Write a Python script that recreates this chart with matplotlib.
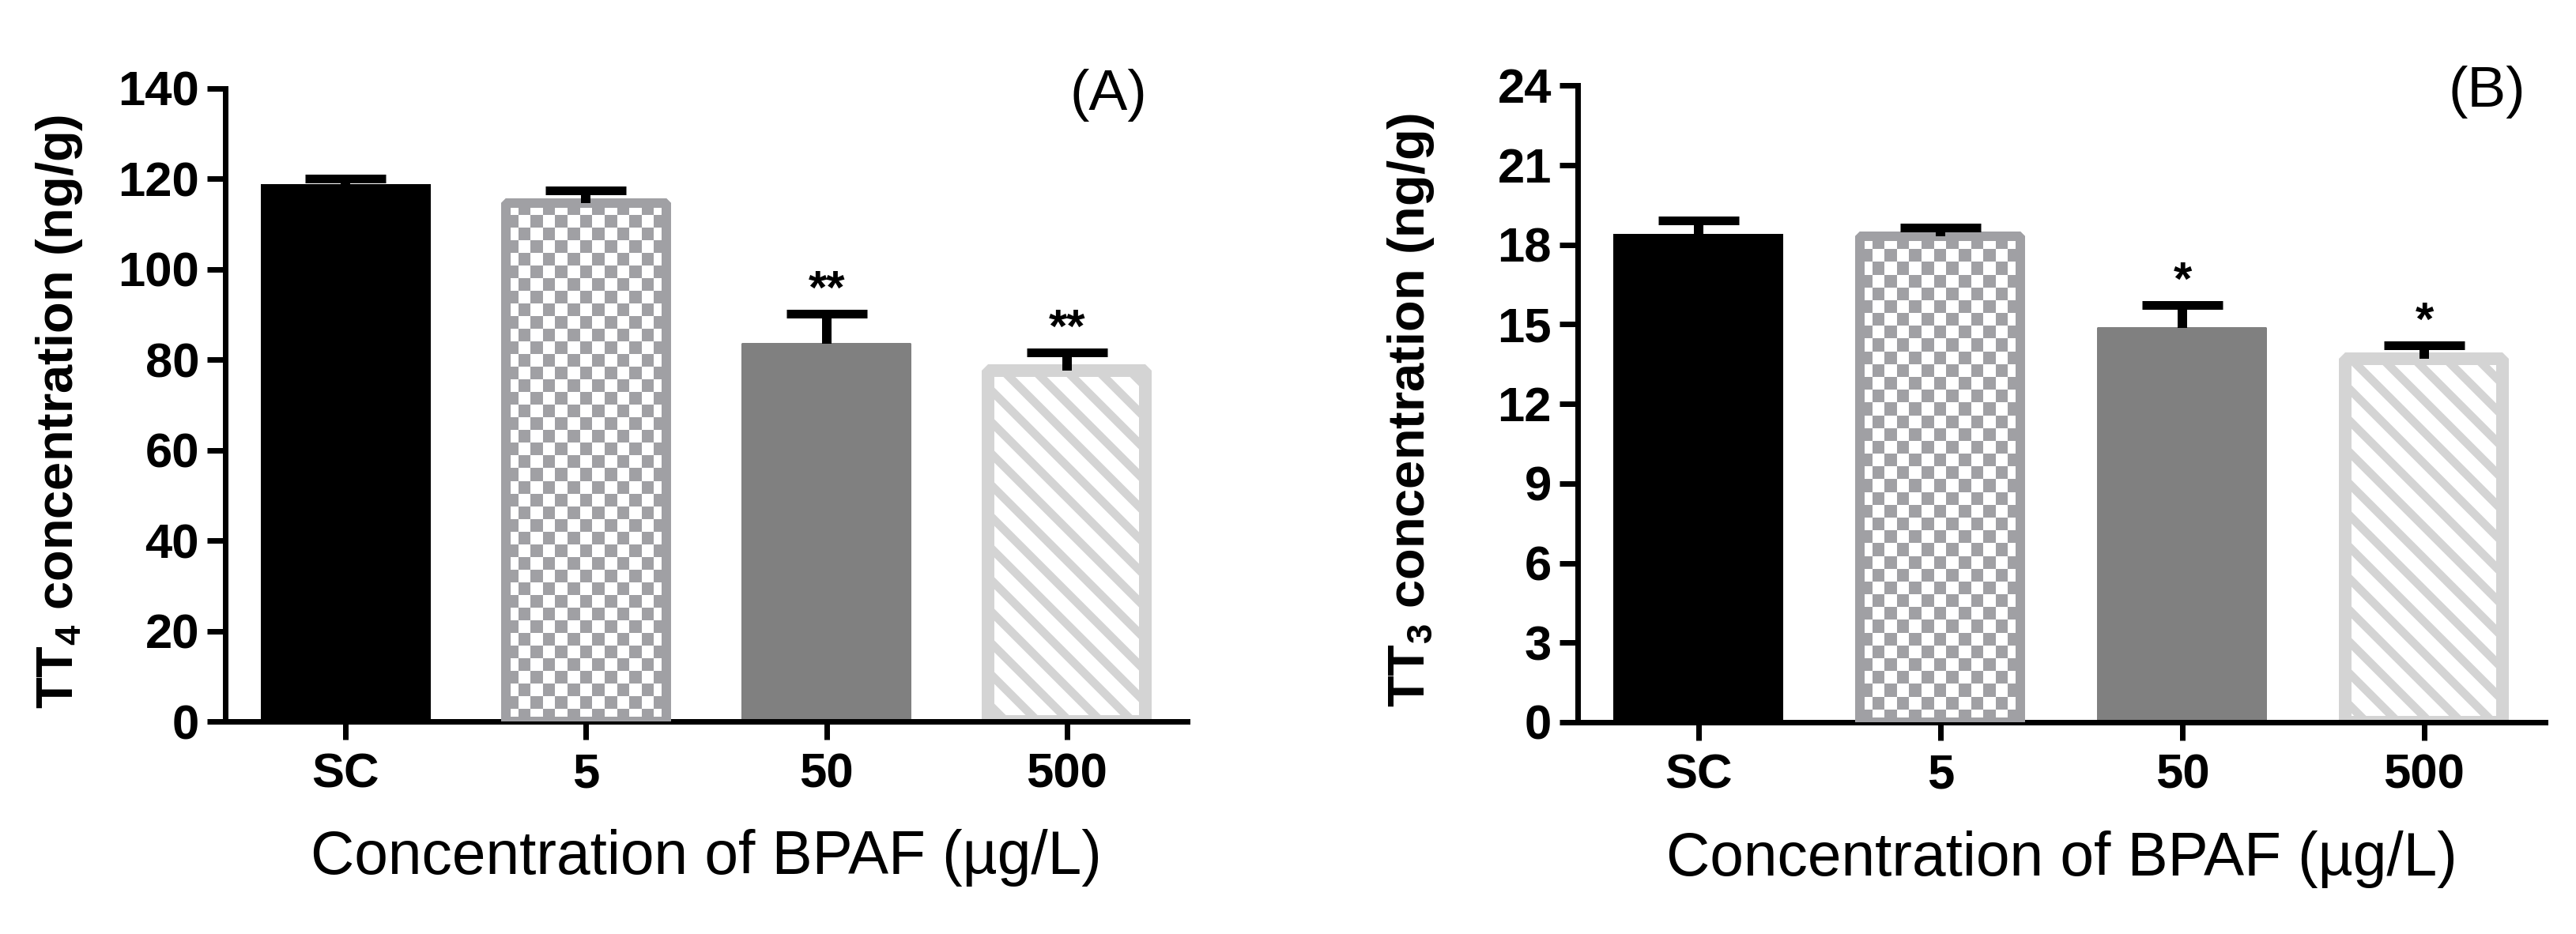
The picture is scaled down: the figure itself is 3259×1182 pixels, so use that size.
import numpy as np
import matplotlib
matplotlib.use("Agg")
import matplotlib.pyplot as plt
from matplotlib.colors import ListedColormap

plt.rcParams['font.family'] = ['Liberation Sans', 'DejaVu Sans']
plt.rcParams['mathtext.fontset'] = 'custom'
plt.rcParams['mathtext.rm'] = 'Liberation Sans'
plt.rcParams['mathtext.bf'] = 'Liberation Sans:bold'
plt.rcParams['hatch.linewidth'] = 3.2

# data
groups = ['SC', '5', '50', '500']
tt4_mean = [118.8, 114.7, 83.5, 77.6]
tt4_err = [1.3, 2.8, 6.6, 4.0]
tt4_sig = ['', '', '**', '**']
tt3_mean = [18.4, 18.3, 14.85, 13.7]
tt3_err = [0.5, 0.33, 0.87, 0.5]
tt3_sig = ['', '', '*', '*']

# bar styles: face, edge, edge width (px), hatch
faces = ['black', 'white', '#808080', 'white']
edges = ['black', '#a0a0a4', '#808080', '#d4d4d4']
edge_px = [0, 12, 2, 16]
hatches = [None, None, None, '\\\\']
checker = [False, True, False, False]

DPI = 240
W, H = 3259, 1182
px = 72 / DPI  # points per pixel

fig = plt.figure(figsize=(W / DPI, H / DPI), dpi=DPI)
axA = fig.add_axes([285 / W, (H - 913) / H, 1217 / W, 801 / H])
axB = fig.add_axes([1996 / W, (H - 914) / H, 1224 / W, 806 / H])


def draw_panel(ax, means, errs, sig, ymax, ystep, ylabel, tag, tag_x):
    x = np.arange(len(groups))
    ax.set_xlim(-0.5, 3.5)
    ax.set_ylim(0, ymax)
    xscale = ax.bbox.width / 4.0
    widths = [(215 - e) / xscale for e in edge_px]

    bars = []
    for i in range(len(groups)):
        b = ax.bar(x[i], means[i], width=widths[i], color=faces[i],
                   edgecolor=edges[i], linewidth=edge_px[i] * px,
                   hatch=hatches[i], zorder=2)[0]
        b.set_joinstyle('bevel')
        bars.append(b)

    # checkerboard fill (no such hatch in matplotlib)
    for i, b in enumerate(bars):
        if not checker[i]:
            continue
        x0, y0 = b.get_x(), b.get_y()
        w, h = b.get_width(), b.get_height()
        p0 = ax.transData.transform((x0, y0))
        p1 = ax.transData.transform((x0 + w, y0 + h))
        nx = max(1, int(round((p1[0] - p0[0]) / 16)))
        ny = max(1, int(round((p1[1] - p0[1]) / 16)))
        grid = np.add.outer(np.arange(ny), np.arange(nx)) % 2
        im = ax.imshow(grid, extent=(x0, x0 + w, y0, y0 + h), origin='upper',
                       cmap=ListedColormap(['white', edges[i]]),
                       interpolation='nearest', aspect='auto', zorder=2.5)
        im.set_clip_path(b)
        ax.bar(x[i], means[i], width=widths[i], fill=False, edgecolor=edges[i],
               linewidth=edge_px[i] * px, zorder=3)[0].set_joinstyle('bevel')
    ax.set_xlim(-0.5, 3.5)
    ax.set_ylim(0, ymax)

    eb = ax.errorbar(x, means, yerr=[np.zeros(len(errs)), errs], fmt='none',
                     ecolor='black', elinewidth=12 * px, capsize=51 * px,
                     capthick=11 * px, zorder=4)
    for cap in eb[1]:
        if np.allclose(cap.get_ydata(), means):
            cap.set_visible(False)

    for i, s in enumerate(sig):
        if s:
            ax.annotate(s, xy=(x[i], means[i] + errs[i]), xytext=(0, 4),
                        textcoords='offset points', ha='center', va='baseline',
                        fontsize=18, fontweight='bold')

    for side in ['top', 'right']:
        ax.spines[side].set_visible(False)
    for side in ['left', 'bottom']:
        ax.spines[side].set_linewidth(7 * px)
    ax.set_xticks(x)
    ax.set_xticklabels(groups, fontweight='bold')
    ax.set_yticks(np.arange(0, ymax + ystep / 2, ystep))
    for lab in ax.get_yticklabels():
        lab.set_fontweight('bold')
    ax.tick_params(axis='both', width=7 * px, length=23 * px, labelsize=18.5)
    ax.tick_params(axis='y', pad=3)
    ax.tick_params(axis='x', pad=5)

    ax.set_ylabel(ylabel, fontsize=19.5, fontweight='bold')
    ax.yaxis.set_label_coords(-0.146, 0.49)
    ax.set_xlabel('Concentration of BPAF (µg/L)', fontsize=23)
    ax.xaxis.set_label_coords(0.5, -0.17)
    ax.text(tag_x, 0.99, tag, transform=ax.transAxes, ha='center', va='center',
            fontsize=22)


draw_panel(axA, tt4_mean, tt4_err, tt4_sig, 140, 20,
           r'TT$_\mathbf{4}$ concentration (ng/g)', '(A)', 0.918)
draw_panel(axB, tt3_mean, tt3_err, tt3_sig, 24, 3,
           r'TT$_\mathbf{3}$ concentration (ng/g)', '(B)', 0.94)

fig.savefig('out.png', dpi=DPI, facecolor='white')
